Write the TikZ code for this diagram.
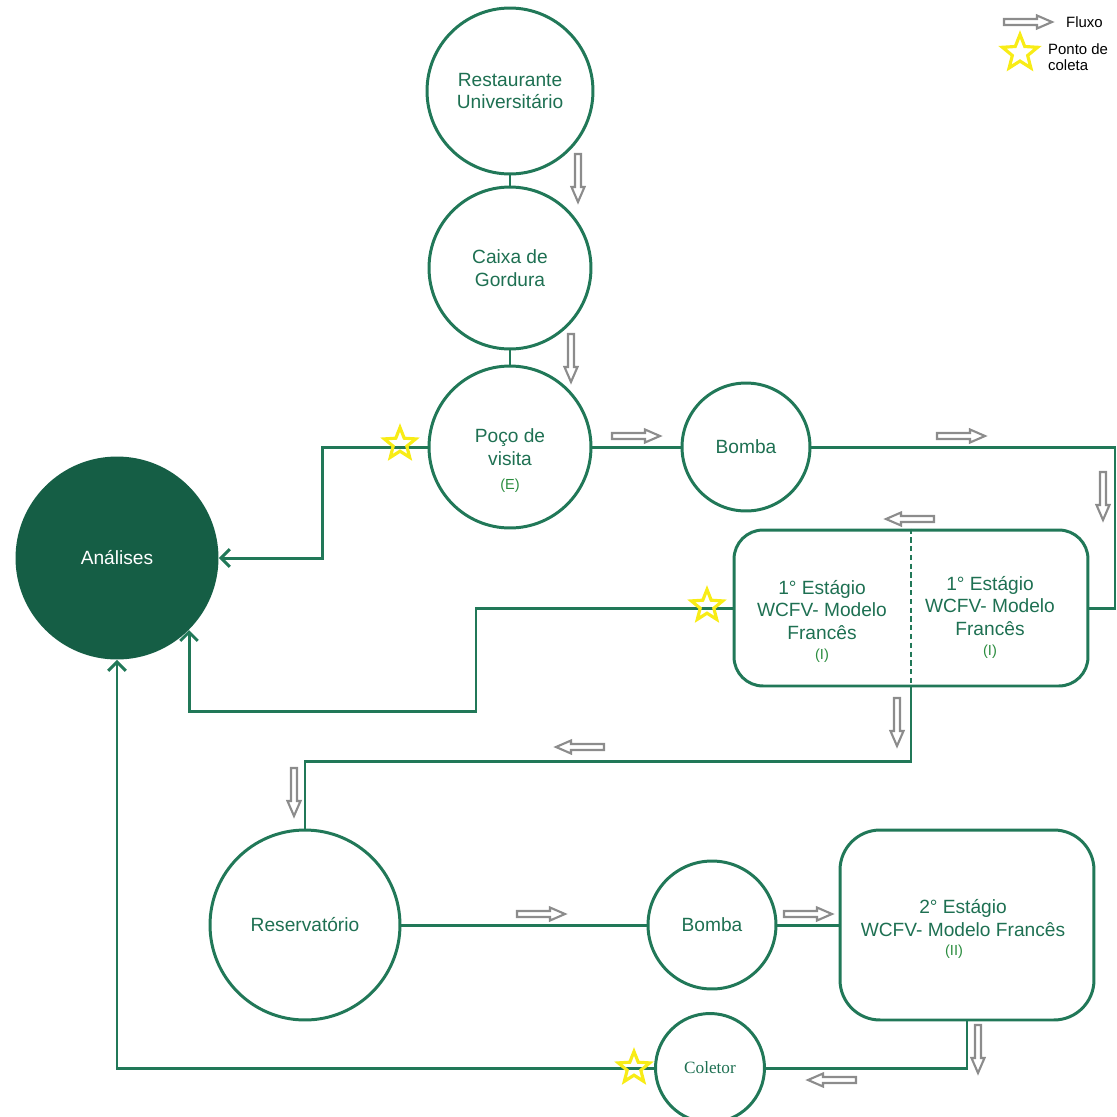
\documentclass[tikz,border=0pt]{standalone}
\usepackage{fontspec}
\setmainfont{Liberation Sans}
\newfontfamily\coletorfont{Liberation Serif}
\usetikzlibrary{shapes.geometric,positioning,arrows.meta}

\definecolor{linegreen}{RGB}{33,120,88}
\definecolor{textgreen}{RGB}{30,112,82}
\definecolor{darkgreen}{RGB}{21,94,69}
\definecolor{taggreen}{RGB}{42,140,62}
\definecolor{staryellow}{RGB}{248,236,22}
\definecolor{flowgray}{RGB}{140,140,140}

\tikzset{
  flow/.pic={\draw[flowgray, line width=1.2pt, fill=white, line join=miter]
    (-24,-3) -- (9,-3) -- (9,-6.5) -- (24,0) -- (9,6.5) -- (9,3) -- (-24,3) -- cycle;}
}

\begin{document}
\begin{tikzpicture}[x=0.02cm,y=-0.02cm,
  every node/.style={text=textgreen},
  unit/.style={circle, draw=linegreen, line width=1.7pt, inner sep=0pt,
    align=center, font=\fontsize{10.9}{13}\selectfont},
  stage/.style={rectangle, draw=linegreen, line width=1.7pt},
  txt/.style={align=center, font=\fontsize{10.9}{13}\selectfont},
  tag/.style={text=taggreen, font=\fontsize{8.3}{9}\selectfont},
  pipe/.style={draw=linegreen, line width=1.7pt},
  spot/.style={star, star points=5, star point ratio=2.3, draw=staryellow,
    line width=1.8pt, minimum size=0.66cm, inner sep=0pt},
  legend/.style={text=black, align=left, anchor=west, font=\fontsize{8.5}{9.2}\selectfont}]

\useasboundingbox (0,0) rectangle (1117,1117);

% units
\node[unit, minimum size=3.32cm] (rest) at (510,91) {Restaurante\\Universitário};
\node[unit, minimum size=3.24cm] (caixa) at (510,268) {Caixa de\\Gordura};
\node[unit, minimum size=3.24cm] (poco) at (510,447) {Poço de\\visita};
\node[tag, below=0.52cm of poco.center] (pocotag) {(E)};
\node[unit, minimum size=2.56cm] (bomba1) at (746,447) {Bomba};
\node[unit, minimum size=3.8cm] (reserv) at (305,925) {Reservatório};
\node[unit, minimum size=2.18cm, font=\coletorfont\fontsize{9.8}{11}\selectfont] (coletor) at (710,1068) {Coletor};
\node[circle, fill=darkgreen, minimum size=4.06cm, inner sep=0pt, text=white,
  font=\fontsize{10.9}{13}\selectfont] (analises) at (117,558) {Análises};
\node[unit, minimum size=2.56cm] (bomba2) at (712,925) {Bomba};

% wetlands
\node[stage, rounded corners=0.58cm, minimum width=7.08cm, minimum height=3.12cm] (stage1) at (911,608) {};
\draw[linegreen, densely dashed, line width=0.6pt] (stage1.north) -- (stage1.south);
\node[txt] (stage1a) at (822,610) {1° Estágio\\WCFV- Modelo\\Francês};
\node[tag] (stage1atag) at (822,656) {(I)};
\node[txt] (stage1b) at (990,606) {1° Estágio\\WCFV- Modelo\\Francês};
\node[tag] (stage1btag) at (990,652) {(I)};

\node[stage, rounded corners=0.8cm, minimum width=5.08cm, minimum height=3.8cm] (stage2) at (967,925) {};
\node[txt] (stage2a) at (963,918) {2° Estágio\\WCFV- Modelo Francês};
\node[tag] (stage2tag) at (954,952) {(II)};

% pipes
\draw[pipe] (rest) -- (caixa);
\draw[pipe] (caixa) -- (poco);
\draw[pipe] (poco) -- (bomba1);
\draw[pipe] (bomba1.east) -- (1115,447) |- (stage1.east);
\draw[pipe] (stage1.south) -- ++(0,74) -| (reserv.north);
\draw[pipe] (reserv) -- (bomba2);
\draw[pipe] (bomba2) -- (stage2);
\draw[pipe] (stage2.south) |- (coletor.east);

% samples to Análises
\draw[pipe, -{Straight Barb[length=5pt,width=10pt]}] (poco.west) -- ++(-105,0) |- (analises.east);
\draw[pipe, -{Straight Barb[length=5pt,width=10pt]}] (stage1.west) -| (476,711) -| (analises.-45);
\draw[pipe, -{Straight Barb[length=5pt,width=10pt]}] (coletor.west) -| (analises.south);

% collection points
\node[spot] (spot1) at (400,444) {};
\node[spot] (spot2) at (707,606) {};
\node[spot] (spot3) at (634,1068) {};

% flow arrows
\pic[rotate=-90] at (578,178) {flow};
\pic[rotate=-90] at (571,358) {flow};
\pic at (636,436) {flow};
\pic at (961,436) {flow};
\pic[rotate=-90] at (1103,496) {flow};
\pic[rotate=180] at (910,519) {flow};
\pic[rotate=-90] at (897,722) {flow};
\pic[rotate=180] at (580,747) {flow};
\pic[rotate=-90] at (294,792) {flow};
\pic at (541,914) {flow};
\pic at (808,914) {flow};
\pic[rotate=-90] at (978,1049) {flow};
\pic[rotate=180] at (832,1080) {flow};

% legend
\pic at (1028,22) {flow};
\node[legend] (fluxo) at (1060,22) {Fluxo};
\node[spot, minimum size=0.74cm] (spotkey) at (1020,53) {};
\node[legend] (ponto) at (1042,57) {Ponto de\\coleta};

\end{tikzpicture}
\end{document}
